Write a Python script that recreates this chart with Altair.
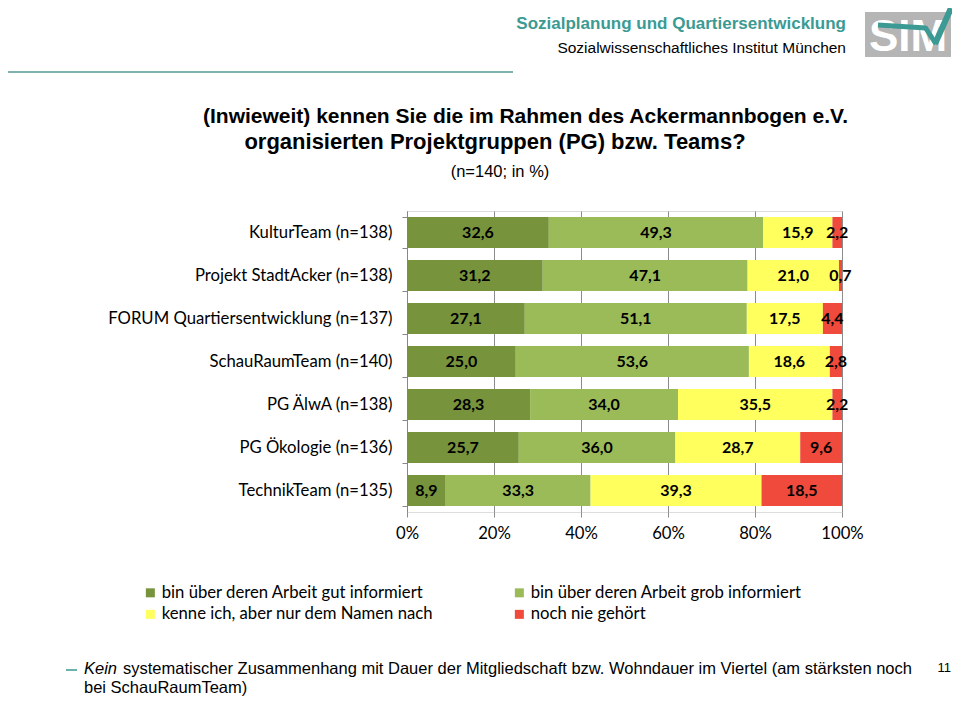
import altair as alt
import pandas as pd

# ---------------- data ----------------
categories = [
    "KulturTeam (n=138)",
    "Projekt StadtAcker (n=138)",
    "FORUM Quartiersentwicklung (n=137)",
    "SchauRaumTeam (n=140)",
    "PG ÄlwA (n=138)",
    "PG Ökologie (n=136)",
    "TechnikTeam (n=135)",
]
series = [
    "bin über deren Arbeit gut informiert",
    "bin über deren Arbeit grob informiert",
    "kenne ich, aber nur dem Namen nach",
    "noch nie gehört",
]
gut_informiert = [32.6, 31.2, 27.1, 25.0, 28.3, 25.7, 8.9]
grob_informiert = [49.3, 47.1, 51.1, 53.6, 34.0, 36.0, 33.3]
nur_namen = [15.9, 21.0, 17.5, 18.6, 35.5, 28.7, 39.3]
nie_gehoert = [2.2, 0.7, 4.4, 2.8, 2.2, 9.6, 18.5]
colors = ["#77933C", "#9BBB59", "#FFFF5E", "#EF4A3C"]
x_ticks = [0, 0.2, 0.4, 0.6, 0.8, 1.0]

rows = []
for si, vals in enumerate([gut_informiert, grob_informiert, nur_namen, nie_gehoert]):
    for ci, v in enumerate(vals):
        rows.append({
            "cat": categories[ci],
            "series": series[si],
            "order": si,
            "value": v,
            "lbl": f"{v:.1f}".replace(".", ","),
        })
df = pd.DataFrame(rows)

# legend is filled column by column: order entries so rows read as in the original
legend_idx = [0, 2, 1, 3]
legend_domain = [series[i] for i in legend_idx]
legend_range = [colors[i] for i in legend_idx]

# plot-area origin on the page
X0, Y0 = 407, 211
W, H = 435, 301


def px(x):
    return x - X0


def py(y):
    return y - Y0


LABEL_FONT = "Lato"
SANS = "Liberation Sans"
FS = 16.7

base = alt.Chart(df).transform_stack(
    stack="value", groupby=["cat"], sort=[alt.SortField("order")],
    as_=["v0", "v1"], offset="normalize"
).transform_calculate(mid="(datum.v0 + datum.v1) / 2")

bars = base.mark_bar().encode(
    y=alt.Y("cat:N", sort=categories, title=None,
            scale=alt.Scale(paddingInner=0.28, paddingOuter=0.14),
            axis=alt.Axis(labelFont=LABEL_FONT, labelFontSize=FS, labelColor="black",
                          tickBand="extent", tickSize=5, tickColor="#888888",
                          domainColor="#888888", labelPadding=10, labelLimit=400)),
    x=alt.X("v0:Q", title=None, scale=alt.Scale(domain=[0, 1]),
            axis=alt.Axis(format="%", values=x_ticks, labelFont=LABEL_FONT,
                          labelFontSize=FS, labelColor="black", grid=True,
                          labelFlush=False,
                          gridColor="#8C8C8C", tickColor="#8C8C8C", tickSize=5,
                          domain=False, labelPadding=8)),
    x2="v1:Q",
    color=alt.Color("series:N",
                    scale=alt.Scale(domain=legend_domain, range=legend_range),
                    legend=alt.Legend(orient="none", legendX=px(142), legendY=py(584),
                                      columns=2, title=None, symbolType="square",
                                      symbolSize=81, symbolStrokeWidth=0,
                                      labelOffset=3,
                                      labelFont=LABEL_FONT, labelFontSize=FS,
                                      labelColor="black", labelLimit=400,
                                      columnPadding=77, rowPadding=4)),
    order=alt.Order("order:Q"),
)

labels = base.mark_text(font=LABEL_FONT, fontSize=16, fontWeight="bold",
                        color="black").encode(
    y=alt.Y("cat:N", sort=categories),
    x=alt.X("mid:Q"),
    text="lbl:N",
)

one = pd.DataFrame({"a": [0]})


def txt(text, x, y, size, align="left", weight="normal", color="black",
        font=SANS, style="normal"):
    return alt.Chart(one).mark_text(
        text=text, align=align, baseline="middle", fontSize=size,
        fontWeight=weight, color=color, font=font, fontStyle=style
    ).encode(x=alt.value(px(x)), y=alt.value(py(y)))


def rule(x1, y1, x2, y2, color, width):
    return alt.Chart(one).mark_rule(color=color, strokeWidth=width,
                                    strokeCap="butt").encode(
        x=alt.value(px(x1)), y=alt.value(py(y1)),
        x2=alt.value(px(x2)), y2=alt.value(py(y2)))


TEAL = "#3B9A93"

decor = [
    txt("Sozialplanung und Quartiersentwicklung", 846, 24, 17, "right", "bold", TEAL),
    txt("Sozialwissenschaftliches Institut München", 846, 48, 15.5, "right"),
    rule(5, 72, 513, 72, "#7FB2AE", 2),
    alt.Chart(one).mark_rect(color="#B5B5B5").encode(
        x=alt.value(px(865)), x2=alt.value(px(951)),
        y=alt.value(py(12)), y2=alt.value(py(57))),
    txt("SIM", 908, 38, 44, "center", "bold", "white"),
    rule(878, 25, 926, 28, TEAL, 5),
    rule(925, 27, 936, 44, TEAL, 5),
    rule(935, 44, 951, 8, TEAL, 6),
    txt("(Inwieweit) kennen Sie die im Rahmen des Ackermannbogen e.V.", 203, 117, 21,
        "left", "bold"),
    txt("organisierten Projektgruppen (PG) bzw. Teams?", 495, 142, 22, "center", "bold"),
    txt("(n=140; in %)", 500, 172, 16.5, "center"),
    rule(66, 670, 77, 670, TEAL, 1.5),
    txt("Kein", 84, 669, 16.5, "left", style="italic"),
    txt("systematischer Zusammenhang mit Dauer der Mitgliedschaft bzw. Wohndauer im Viertel (am stärksten noch",
        123, 669, 16.5, "left"),
    txt("bei SchauRaumTeam)", 84, 688, 16.5, "left"),
    txt("11", 951, 668, 13, "right"),
]

chart = alt.layer(bars, labels, *decor).properties(
    width=W, height=H,
    autosize=alt.AutoSizeParams(type="none"),
    padding={"left": X0 - 8, "top": Y0 - 8, "right": 944 - (X0 - 8) - W,
             "bottom": 689 - (Y0 - 8) - H},
).configure_view(stroke=None).configure(background="white")

chart.save("out.html", embed_options={"renderer": "svg", "actions": False})
